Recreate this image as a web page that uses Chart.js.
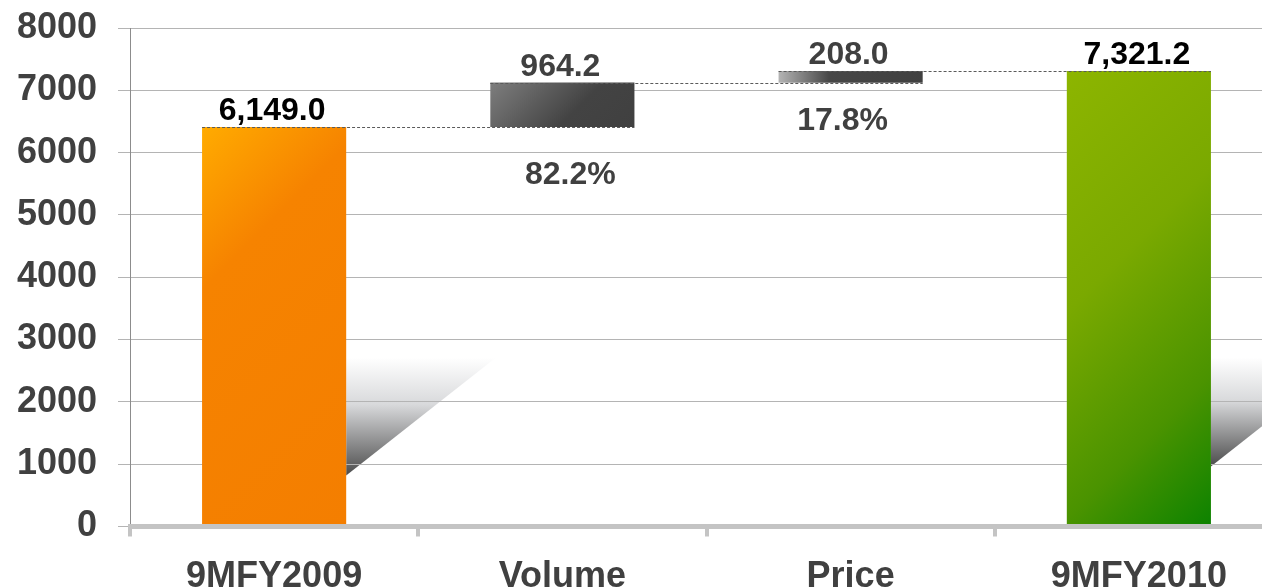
<!DOCTYPE html>
<html>
<head>
<meta charset="utf-8">
<script src="https://cdn.jsdelivr.net/npm/chart.js@4/dist/chart.umd.min.js"></script>
<style>
  html, body { margin: 0; padding: 0; background: #fff; overflow: hidden; }
  canvas { display: block; }
</style>
</head>
<body>
<canvas id="bridge" width="1290" height="587"></canvas>
<script>
// categories and the bar ranges as drawn in the picture (floating bars)
var categories = ['9MFY2009', 'Volume', 'Price', '9MFY2010'];
var barStart = [0, 6410, 7122, 0];
var barEnd = [6410, 7125, 7310, 7310];
var valueLabels = ['6,149.0', '964.2', '208.0', '7,321.2'];
var shareLabels = ['', '82.2%', '17.8%', ''];
var yTicks = [0, 1000, 2000, 3000, 4000, 5000, 6000, 7000, 8000];

var FONT = '"Liberation Sans", Arial, sans-serif';
var DARK = '#404040';

// gradient stops per bar, direction: 'diag' or 'horiz'
var barFills = [
  { dir: 'diag', stops: [[0, '#ffab00'], [0.3, '#f68300'], [1, '#f47e00']] },
  { dir: 'diag', stops: [[0, '#7e7e7e'], [0.6, '#434343'], [1, '#404040']] },
  { dir: 'horiz', stops: [[0, '#b4b4b4'], [0.35, '#474747'], [1, '#404040']] },
  { dir: 'diag', stops: [[0, '#8db500'], [0.4, '#7aa900'], [0.75, '#4a9300'], [1, '#0c8200']] }
];

function barBox(chart, i) {
  var xs = chart.scales.x, ys = chart.scales.y;
  var cx = xs.getPixelForValue(i);
  var half = (xs.width / categories.length) * 0.25;
  return {
    left: cx - half, right: cx + half, cx: cx,
    top: ys.getPixelForValue(barEnd[i]),
    bottom: ys.getPixelForValue(barStart[i])
  };
}

function fillFor(ctx) {
  var chart = ctx.chart;
  var i = ctx.dataIndex;
  if (!chart.chartArea || !chart.scales.x) return barFills[i].stops[1][1];
  var b = barBox(chart, i);
  var w = b.right - b.left, h = b.bottom - b.top;
  var g;
  if (barFills[i].dir === 'horiz') {
    g = chart.ctx.createLinearGradient(b.left, 0, b.right, 0);
  } else {
    var d = (w + h) / 2;
    g = chart.ctx.createLinearGradient(b.left, b.top, b.left + d, b.top + d);
  }
  barFills[i].stops.forEach(function (s) { g.addColorStop(s[0], s[1]); });
  return g;
}

// soft grey wedge to the right of the two total bars
var shadowPlugin = {
  id: 'shadows',
  beforeDraw: function (chart) {
    var c = chart.ctx, area = chart.chartArea;
    var wedges = [{ i: 0, lift: 51 }, { i: 3, lift: 60 }];
    var topY = area.bottom - 169;
    wedges.forEach(function (wd) {
      var b = barBox(chart, wd.i);
      var botY = area.bottom - wd.lift;
      var span = (botY - topY) * 1.27;
      var g = c.createLinearGradient(0, topY, 0, botY);
      g.addColorStop(0, '#ffffff');
      g.addColorStop(0.4, '#d8d9db');
      g.addColorStop(1, '#4c4c4c');
      c.save();
      c.beginPath();
      c.moveTo(b.right, topY);
      c.lineTo(b.right + span, topY);
      c.lineTo(b.right, botY);
      c.closePath();
      c.fillStyle = g;
      c.fill();
      c.restore();
    });
  }
};

// dashed connectors and value labels
var labelPlugin = {
  id: 'bridgeLabels',
  afterDatasetsDraw: function (chart) {
    var c = chart.ctx;
    c.save();
    c.strokeStyle = '#5a5a5a';
    c.lineWidth = 1;
    c.setLineDash([3, 2]);
    for (var i = 0; i < categories.length - 1; i++) {
      var a = barBox(chart, i), n = barBox(chart, i + 1);
      var y = Math.round(a.top) + 0.5;
      c.beginPath();
      c.moveTo(a.left, y);
      c.lineTo(n.right, y);
      c.stroke();
    }
    c.setLineDash([]);
    c.font = 'bold 32px ' + FONT;
    c.textAlign = 'center';
    c.textBaseline = 'alphabetic';
    var shareDy = [0, 57, 47, 0];
    var shareDx = [0, 8, -8, 0];
    for (var j = 0; j < categories.length; j++) {
      var b = barBox(chart, j);
      c.fillStyle = (j === 0 || j === 3) ? '#000000' : DARK;
      c.fillText(valueLabels[j], b.cx - 2, b.top - 7);
      if (shareLabels[j]) {
        c.fillStyle = DARK;
        c.fillText(shareLabels[j], b.cx + shareDx[j], b.bottom + shareDy[j]);
      }
    }
    c.restore();
  }
};

var ctx = document.getElementById('bridge').getContext('2d');
var myChart = new Chart(ctx, {
  type: 'bar',
  data: {
    labels: categories,
    datasets: [{
      data: barStart.map(function (s, i) { return [s, barEnd[i]]; }),
      backgroundColor: fillFor,
      borderWidth: 0,
      barPercentage: 0.5,
      categoryPercentage: 1
    }]
  },
  options: {
    responsive: false,
    animation: false,
    layout: { padding: { top: 28, right: 7, left: 0, bottom: 0 } },
    plugins: {
      legend: { display: false },
      tooltip: { enabled: false }
    },
    scales: {
      x: {
        afterFit: function (scale) {
          scale.height = 60.5;
          scale.paddingLeft = 0;
          scale.paddingRight = 0;
        },
        grid: {
          drawOnChartArea: false,
          color: '#c4c4c4',
          lineWidth: 4,
          tickLength: 10
        },
        border: { color: '#c4c4c4', width: 5, z: 1 },
        ticks: {
          color: DARK,
          padding: 19,
          font: { family: FONT, size: 36, weight: 'bold' }
        }
      },
      y: {
        min: 0,
        max: 8000,
        afterFit: function (scale) {
          scale.width = 130;
          scale.paddingTop = 0;
          scale.paddingBottom = 0;
        },
        afterBuildTicks: function (scale) {
          scale.ticks = yTicks.map(function (v) { return { value: v }; });
        },
        grid: { color: '#b4b4b4', lineWidth: 1, tickLength: 12 },
        border: { color: '#8c8c8c', width: 1 },
        ticks: {
          color: DARK,
          padding: 21,
          font: { family: FONT, size: 36, weight: 'bold' },
          callback: function (v) { return String(v); }
        }
      }
    }
  },
  plugins: [shadowPlugin, labelPlugin]
});
</script>
</body>
</html>
